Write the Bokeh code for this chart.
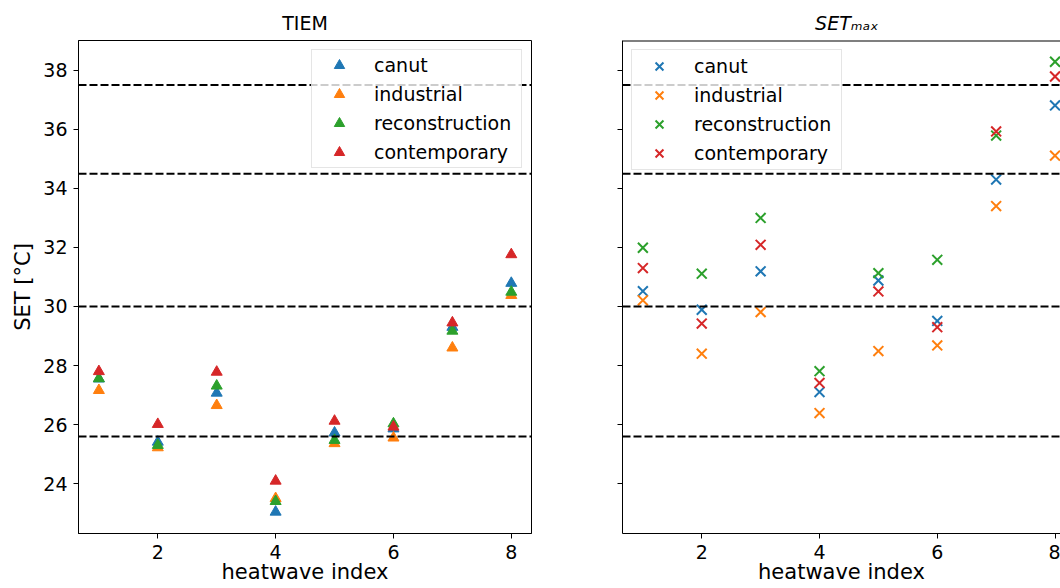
from bokeh.plotting import figure
from bokeh.layouts import row
from bokeh.models import Range1d, Span, Legend, LegendItem, FixedTicker, CustomJSTickFormatter
from bokeh.embed import file_html
from bokeh.resources import INLINE

# ---------------- data ----------------
heatwave = [1, 2, 3, 4, 5, 6, 7, 8]
series = ["canut", "industrial", "reconstruction", "contemporary"]
colors = ["#1f77b4", "#ff7f0e", "#2ca02c", "#d62728"]

tiem_canut = [27.55, 25.41, 27.07, 23.04, 25.72, 25.86, 29.30, 30.79]
tiem_industrial = [27.16, 25.22, 26.65, 23.50, 25.36, 25.55, 28.60, 30.38]
tiem_reconstruction = [27.56, 25.30, 27.31, 23.40, 25.47, 26.03, 29.17, 30.49]
tiem_contemporary = [27.80, 26.01, 27.78, 24.09, 26.12, 25.92, 29.45, 31.76]

setmax_canut = [30.52, 29.89, 31.19, 27.10, 30.88, 29.51, 34.30, 36.81]
setmax_industrial = [30.21, 28.40, 29.81, 26.39, 28.49, 28.68, 33.40, 35.11]
setmax_reconstruction = [31.99, 31.11, 33.00, 27.81, 31.13, 31.58, 35.79, 38.29]
setmax_contemporary = [31.30, 29.42, 32.09, 27.41, 30.51, 29.30, 35.93, 37.79]

thresholds = [37.5, 34.5, 30.0, 25.6]

x_ticks = [2, 4, 6, 8]
y_ticks = [24, 26, 28, 30, 32, 34, 36, 38]

FONT = "DejaVu Sans"
TICK_FS = "19px"
LABEL_FS = "21px"
Y0, Y1 = 22.31, 39.01


def style_axes(p, show_ylabels=True):
    p.xaxis.ticker = FixedTicker(ticks=x_ticks)
    p.yaxis.ticker = FixedTicker(ticks=y_ticks)
    for ax in (p.xaxis[0], p.yaxis[0]):
        ax.axis_line_color = "black"
        ax.axis_line_width = 1
        ax.major_tick_line_color = "black"
        ax.major_tick_in = 0
        ax.major_tick_out = 5
        ax.minor_tick_line_color = None
        ax.major_label_text_font = FONT
        ax.major_label_text_font_size = TICK_FS
        ax.major_label_text_color = "black"
        ax.axis_label_text_font = FONT
        ax.axis_label_text_font_size = LABEL_FS
        ax.axis_label_text_font_style = "normal"
        ax.axis_label_text_color = "black"
    p.xaxis.major_label_standoff = 6
    p.xaxis.axis_label = "heatwave index"
    p.xaxis.axis_label_standoff = -2
    p.yaxis.major_label_standoff = 6
    if not show_ylabels:
        p.yaxis.formatter = CustomJSTickFormatter(code="return ''")
    p.xgrid.grid_line_color = None
    p.ygrid.grid_line_color = None


def make_legend(items, loc, gh):
    lg = Legend(items=items, location=loc)
    lg.label_text_font = FONT
    lg.label_text_font_size = TICK_FS
    lg.label_text_color = "black"
    lg.label_height = gh
    lg.label_width = 145
    lg.glyph_height = gh
    lg.glyph_width = 50
    lg.label_standoff = 10
    lg.spacing = 29 - gh
    lg.padding = 2
    lg.margin = 9
    lg.border_line_color = "#cccccc"
    lg.border_line_width = 1
    lg.background_fill_color = "white"
    lg.background_fill_alpha = 0.8
    return lg


def style_title(p, text, style):
    p.title.text = text
    p.title.text_font = FONT
    p.title.text_font_size = TICK_FS
    p.title.text_font_style = style
    p.title.text_color = "black"
    p.title.standoff = 14


# ---------------- left panel: TIEM ----------------
p1 = figure(width=551, height=588, output_backend="svg", toolbar_location=None,
            x_range=Range1d(0.654, 8.343), y_range=Range1d(Y0, Y1),
            min_border_left=78, min_border_right=20, min_border_top=40, min_border_bottom=55)
style_title(p1, "TIEM", "normal")
p1.title.align = "center"
p1.outline_line_color = "black"
p1.outline_line_width = 1
p1.outline_line_alpha = 1
style_axes(p1)
p1.yaxis.axis_label = "SET [°C]"

tiem = [tiem_canut, tiem_industrial, tiem_reconstruction, tiem_contemporary]
items1 = []
for name, col, vals in zip(series, colors, tiem):
    r = p1.scatter(heatwave, vals, marker="triangle", size=11, fill_color=col,
                   line_color=col, line_width=1)
    items1.append(LegendItem(label=name, renderers=[r]))
for t in thresholds:
    p1.add_layout(Span(location=t, dimension="width", line_color="black",
                       line_width=2, line_dash="8 3"))
p1.add_layout(make_legend(items1, "top_right", 26))

# ---------------- right panel: SET_max ----------------
p2 = figure(width=509, height=588, output_backend="svg", toolbar_location=None,
            x_range=Range1d(0.654, 8.093), y_range=Range1d(Y0, Y1),
            min_border_left=71, min_border_right=0, min_border_top=40, min_border_bottom=55)
style_title(p2, "SET\u2098\u2090\u2093", "italic")
p2.title.align = "right"
p2.title.offset = 182
p2.outline_line_color = None
style_axes(p2, show_ylabels=False)

setmax = [setmax_canut, setmax_industrial, setmax_reconstruction, setmax_contemporary]
items2 = []
for name, col, vals in zip(series, colors, setmax):
    r = p2.scatter(heatwave, vals, marker="x", size=14, line_color=col, line_width=2)
    items2.append(LegendItem(label=name, renderers=[r]))
for t in thresholds:
    p2.add_layout(Span(location=t, dimension="width", line_color="black",
                       line_width=2, line_dash="8 3"))
p2.add_layout(Span(location=Y1, dimension="width", line_color="black", line_width=2))
p2.add_layout(make_legend(items2, "top_left", 28))

layout = row(p1, p2)
open("out.html", "w").write(file_html(layout, INLINE))
